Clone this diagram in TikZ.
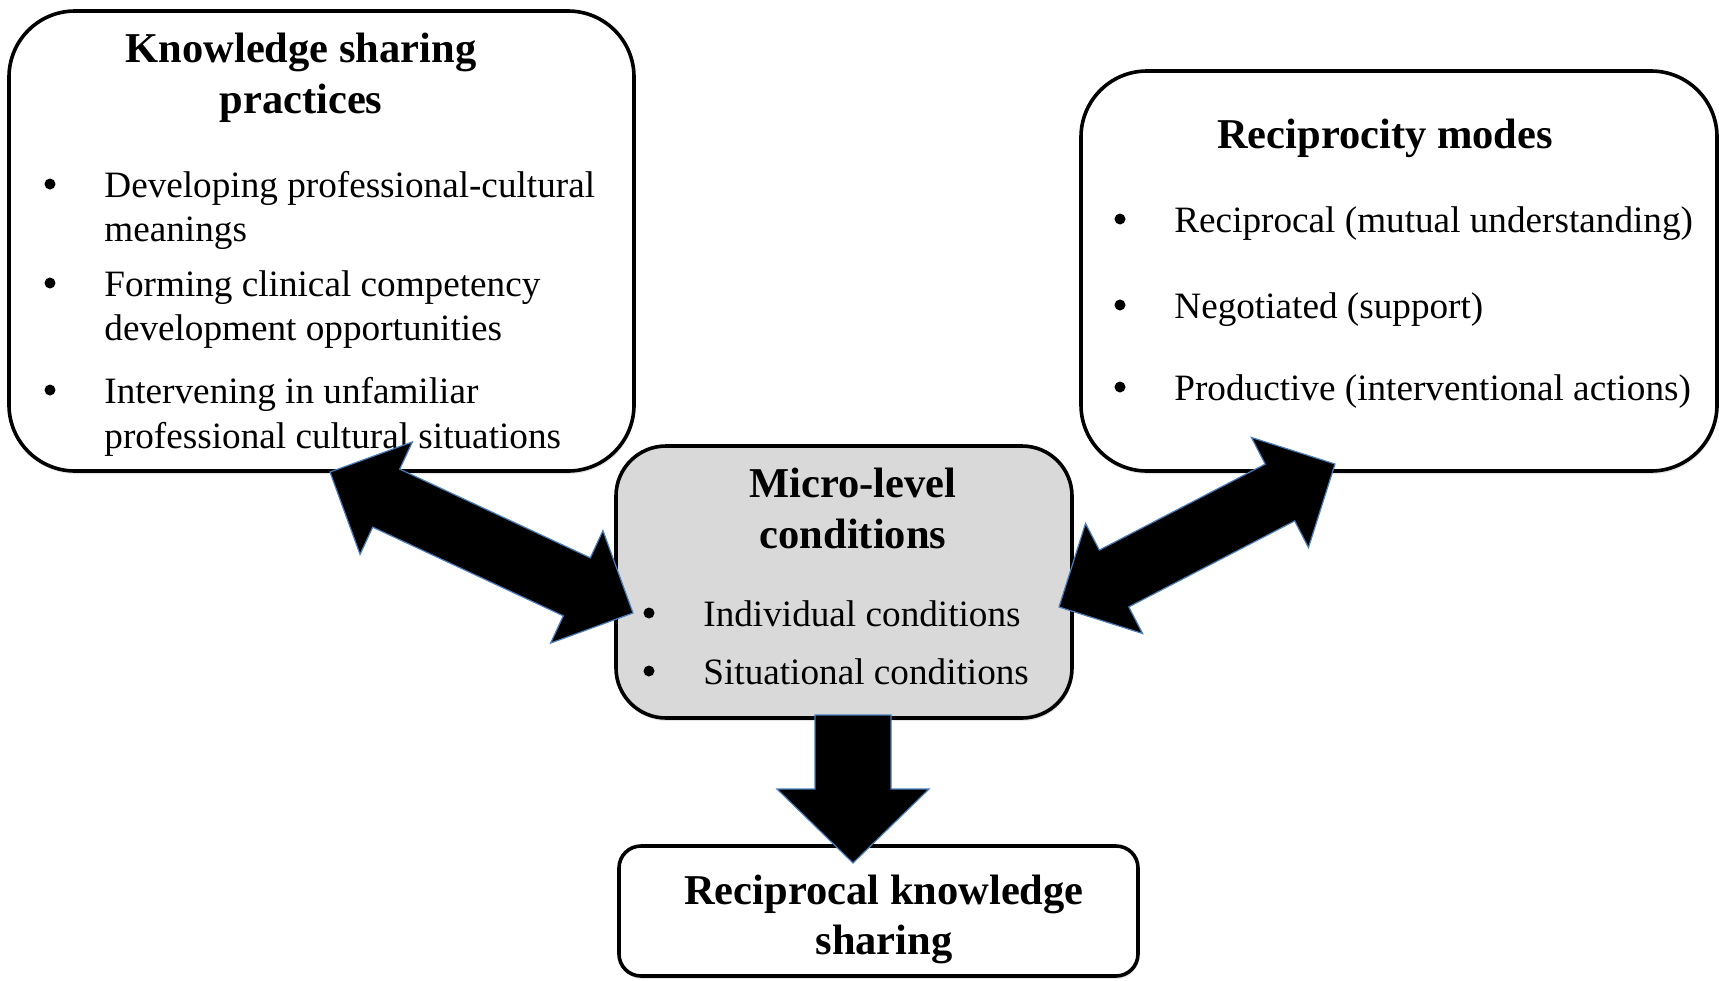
\documentclass[tikz,border=0pt]{standalone}
\usepackage{fontspec}
\setmainfont{Liberation Serif}
\usetikzlibrary{calc,shadows}

\definecolor{arrowblue}{HTML}{4A7EBB}
\definecolor{boxgray}{HTML}{D9D9D9}

% double headed block arrow between two named coordinates
\newcommand{\fatdarrow}[2]{%
  \filldraw[blockarrow] (#1)
    -- ($(#1)!31pt!(#2)!31pt!90:(#2)$) -- ($(#1)!31pt!(#2)!16pt!90:(#2)$)
    -- ($(#2)!31pt!(#1)!16pt!-90:(#1)$) -- ($(#2)!31pt!(#1)!31pt!-90:(#1)$)
    -- (#2)
    -- ($(#2)!31pt!(#1)!31pt!90:(#1)$) -- ($(#2)!31pt!(#1)!16pt!90:(#1)$)
    -- ($(#1)!31pt!(#2)!16pt!-90:(#2)$) -- ($(#1)!31pt!(#2)!31pt!-90:(#2)$)
    -- cycle;}

\begin{document}
\begin{tikzpicture}[x=0.5pt,y=-0.5pt,
    box/.style={draw, line width=1.8pt, rounded corners=33pt, fill=white,
      drop shadow={opacity=0.2, shadow xshift=0.5pt, shadow yshift=-1.5pt}},
    ttl/.style={anchor=base, inner sep=0pt, font=\fontsize{21.25}{26}\selectfont\bfseries},
    txt/.style={anchor=base west, inner sep=0pt, font=\fontsize{18.6}{22}\selectfont},
    dot/.style={circle, fill=black, inner sep=0pt, minimum size=5.5pt},
    blockarrow/.style={fill=black, draw=arrowblue, line width=0.6pt, line join=miter}]
  \useasboundingbox (0,0) rectangle (1719,980);

  % boxes
  \node[box, minimum width=312.5pt, minimum height=230pt] (ksp) at (321.5,241) {};
  \node[box, minimum width=318pt, minimum height=200pt] (rmo) at (1399,271) {};
  \node[box, fill=boxgray, rounded corners=25pt, minimum width=228pt, minimum height=136pt] (mlc) at (844,582) {};
  \node[box, rounded corners=11pt, minimum width=259.5pt, minimum height=65pt] (rks) at (878.5,911) {};

  % knowledge sharing practices
  \node[ttl] (ksp1) at (301,62) {Knowledge sharing};
  \node[ttl] (ksp2) at (301,113) {practices};
  \foreach \y/\t [count=\i] in {197/Developing professional-cultural, 241/meanings,
      296/Forming clinical competency, 340/development opportunities,
      403/Intervening in unfamiliar, 448/professional cultural situations}
    \node[txt] (kl\i) at (104,\y) {\t};
  \foreach \y [count=\i] in {184,283,390}
    \node[dot] (kb\i) at (50,\y) {};

  % reciprocity modes
  \node[ttl] (rmo1) at (1385,148) {Reciprocity modes};
  \foreach \y/\t [count=\i] in {232/Reciprocal (mutual understanding),
      318/Negotiated (support), 400/Productive (interventional actions)}
    \node[txt] (rl\i) at (1174,\y) {\t};
  \foreach \y [count=\i] in {219,305,387}
    \node[dot] (rb\i) at (1120,\y) {};

  % micro-level conditions
  \node[ttl] (mlc1) at (853,497) {Micro-level};
  \node[ttl] (mlc2) at (853,548) {conditions};
  \node[txt] (ml1) at (703,626) {Individual conditions};
  \node[txt] (ml2) at (703,684) {Situational conditions};
  \node[dot] (mb1) at (649,613) {};
  \node[dot] (mb2) at (649,671) {};

  % reciprocal knowledge sharing
  \node[ttl] (rks1) at (884,904) {Reciprocal knowledge};
  \node[ttl] (rks2) at (884,954) {sharing};

  % arrows
  \coordinate (ka) at (330,472);
  \coordinate (kb) at (633,613);
  \coordinate (ra) at (1335,464);
  \coordinate (rb) at (1059,607);
  \coordinate (da) at (853,715);
  \coordinate (db) at (853,863);
  \fatdarrow{ka}{kb}
  \fatdarrow{ra}{rb}
  \filldraw[blockarrow] ($(da)!19pt!90:(db)$)
    -- ($(db)!37pt!(da)!19pt!-90:(da)$) -- ($(db)!37pt!(da)!38pt!-90:(da)$)
    -- (db)
    -- ($(db)!37pt!(da)!38pt!90:(da)$) -- ($(db)!37pt!(da)!19pt!90:(da)$)
    -- ($(da)!19pt!-90:(db)$) -- cycle;
\end{tikzpicture}
\end{document}
